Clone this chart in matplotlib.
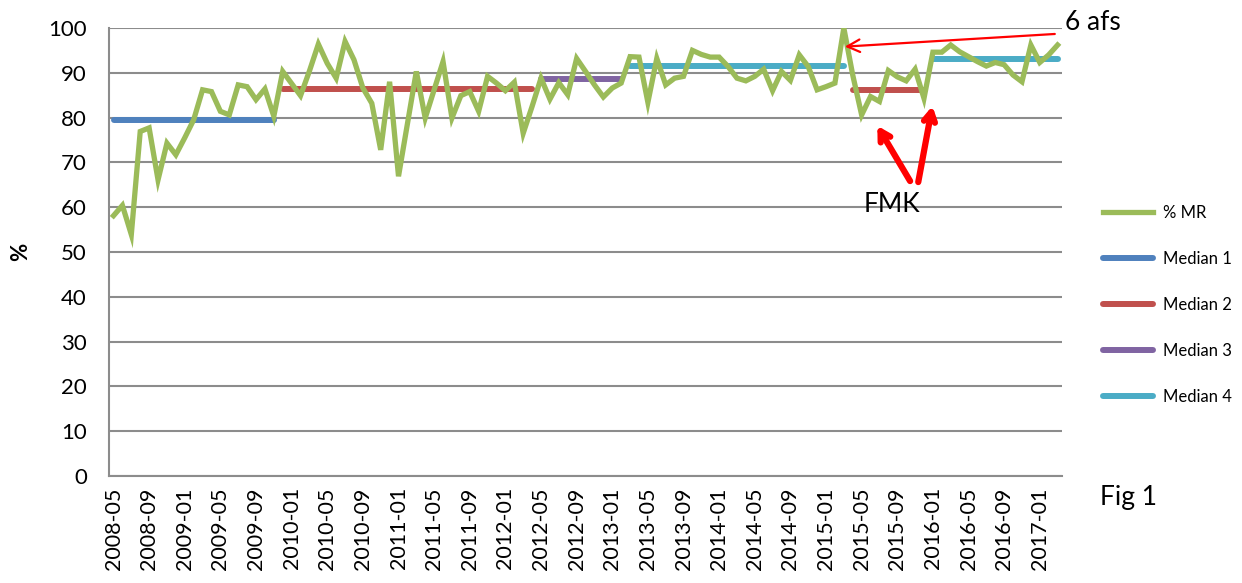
import numpy as np
import pandas as pd
import matplotlib
matplotlib.use("Agg")
import matplotlib.pyplot as plt

plt.rcParams['font.family'] = ['Lato', 'DejaVu Sans']

# monthly categories 2008-05 .. 2017-03
months = [p.strftime("%Y-%m") for p in pd.period_range("2008-05", "2017-03", freq="M")]

mr = [58.1, 60.4, 53.9, 76.9, 77.7, 66.1, 74.3, 71.7, 75.5, 79.5,
      86.2, 85.8, 81.4, 80.6, 87.3, 86.9, 84.0, 86.4, 80.3, 90.3,
      87.6, 84.9, 90.4, 96.4, 92.1, 88.8, 97.0, 92.9, 86.6, 83.2,
      72.8, 88.0, 66.9, 78.6, 90.3, 79.9, 86.2, 92.5, 79.9, 84.9,
      85.8, 81.4, 89.2, 87.7, 86.0, 87.9, 76.5, 82.5, 88.8, 84.1,
      87.8, 85.1, 93.2, 90.3, 87.3, 84.6, 86.6, 87.7, 93.6, 93.5,
      83.4, 93.2, 87.3, 88.8, 89.2, 95.0, 94.1, 93.5, 93.5, 91.4,
      88.8, 88.2, 89.2, 90.8, 86.0, 90.3, 88.3, 94.0, 91.4, 86.2,
      86.9, 87.7, 100.0, 89.5, 80.6, 84.7, 83.6, 90.5, 89.1, 88.2,
      90.8, 84.3, 94.6, 94.6, 96.2, 94.7, 93.6, 92.5, 91.5, 92.3,
      91.8, 89.5, 88.0, 96.2, 92.3, 94.0, 96.2]

# median periods: (first month, last month, value)
median1 = [("2008-05", "2009-11", 79.5)]
median2 = [("2009-12", "2012-04", 86.4), ("2015-04", "2015-12", 86.2)]
median3 = [("2012-05", "2013-02", 88.6)]
median4 = [("2013-03", "2015-03", 91.5), ("2016-01", "2017-03", 93.0)]

tick_labels = months[::4]

green = "#9BBB59"
colors = {"Median 1": "#4F81BD", "Median 2": "#C0504D",
          "Median 3": "#8064A2", "Median 4": "#4BACC6"}

fig = plt.figure(figsize=(12.42, 5.83), dpi=100)
ax = fig.add_axes([0.0878, 0.1835, 0.7673, 0.7685])

x = np.arange(len(months))
ax.plot(x, mr, color=green, lw=3.8, solid_joinstyle='miter', label="% MR", zorder=3)

for name, segs in [("Median 1", median1), ("Median 2", median2),
                   ("Median 3", median3), ("Median 4", median4)]:
    for k, (a, b, v) in enumerate(segs):
        i0, i1 = months.index(a), months.index(b)
        ax.plot([i0, i1], [v, v], color=colors[name], lw=4.3,
                solid_capstyle='round', zorder=2,
                label=name if k == 0 else None)

ax.set_xlim(-0.5, len(months) - 0.5)
ax.set_ylim(0, 100)
ax.set_yticks(range(0, 101, 10))
ax.set_xticks(x[::4])
ax.set_xticklabels(tick_labels, rotation=90, fontsize=15.5)
ax.tick_params(axis='y', labelsize=16, length=0, pad=16)
ax.tick_params(axis='x', length=0, pad=8)
ax.grid(axis='y', color='#8c8c8c', lw=1.5, zorder=0)
for s in ['top', 'right']:
    ax.spines[s].set_visible(False)
for s in ['left', 'bottom']:
    ax.spines[s].set_color('#8c8c8c')
    ax.spines[s].set_linewidth(1.5)
ax.set_ylabel("%", fontsize=16, fontweight='bold', labelpad=12)

# annotations
ax.annotate("", xy=(81.8, 95.8), xytext=(106, 98.7),
            arrowprops=dict(arrowstyle="->,head_length=0.9,head_width=0.45",
                            color="red", lw=1.6), annotation_clip=False)
fig.text(1065 / 1242, 1 - 22 / 583, "6 afs", fontsize=19, va='center', ha='left')

ax.annotate("", xy=(85.6, 78.7), xytext=(89.6, 65.3),
            arrowprops=dict(arrowstyle="->,head_length=0.7,head_width=0.4",
                            color="red", lw=4.5))
ax.annotate("", xy=(92.0, 83.2), xytext=(90.3, 65.0),
            arrowprops=dict(arrowstyle="->,head_length=0.7,head_width=0.4",
                            color="red", lw=4.5))
ax.text(87.4, 60.5, "FMK", fontsize=19, ha='center', va='center')

fig.text(1100 / 1242, 1 - 497 / 583, "Fig 1", fontsize=19, va='center', ha='left')

fig.legend(loc='center left', bbox_to_anchor=(1088 / 1242, 1 - 305 / 583),
           frameon=False, fontsize=12, handlelength=3.0, labelspacing=1.8,
           handletextpad=0.6)

fig.savefig("out.png", dpi=100)
